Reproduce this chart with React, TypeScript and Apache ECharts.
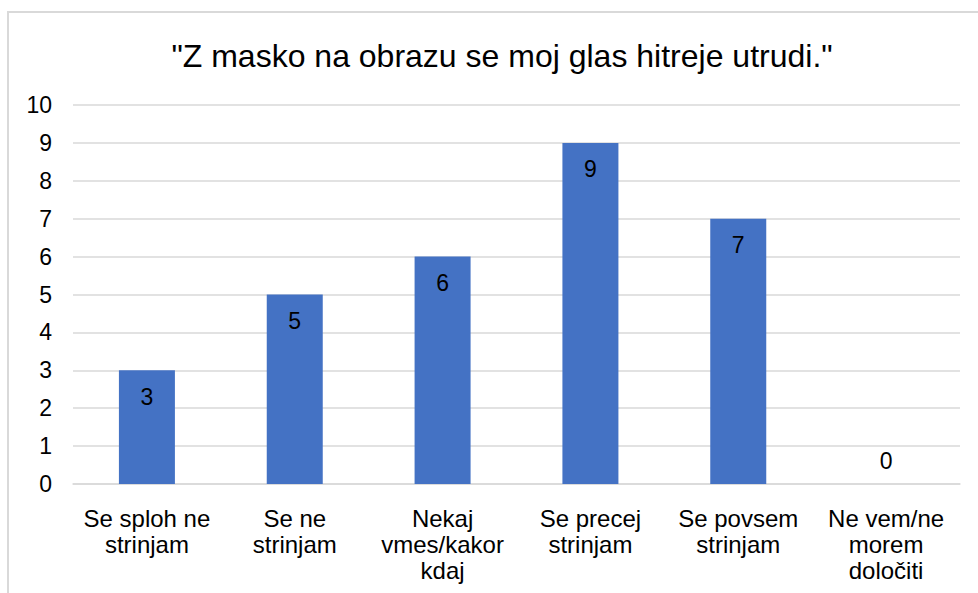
import React, { useEffect, useRef } from "react";
import * as echarts from "echarts";

const title = '"Z masko na obrazu se moj glas hitreje utrudi."';
const categories = [
  "Se sploh ne\nstrinjam",
  "Se ne\nstrinjam",
  "Nekaj\nvmes/kakor\nkdaj",
  "Se precej\nstrinjam",
  "Se povsem\nstrinjam",
  "Ne vem/ne\nmorem\ndoločiti",
];
const values = [3, 5, 6, 9, 7, 0];

export default function App() {
  const ref = useRef<HTMLDivElement>(null);
  useEffect(() => {
    document.body.style.margin = "0";
    const chart = echarts.init(ref.current!, null, { renderer: "svg" });
    const font = "'Liberation Sans', Arial, sans-serif";
    chart.setOption({
      animation: false,
      backgroundColor: "#ffffff",
      title: {
        text: title,
        left: 497,
        top: 35,
        textAlign: "center",
        textStyle: { fontFamily: font, fontSize: 32, fontWeight: "normal", color: "#000" },
      },
      graphic: [
        {
          type: "rect",
          shape: { x: 8, y: 12, width: 990, height: 600 },
          style: { fill: "none", stroke: "#d9d9d9", lineWidth: 2 },
          silent: true,
        },
      ],
      grid: { left: 73, right: 18, top: 105, bottom: 109, containLabel: false },
      xAxis: {
        type: "category",
        data: categories,
        axisLine: { lineStyle: { color: "#d9d9d9", width: 1.5 } },
        axisTick: { show: false },
        axisLabel: {
          interval: 0,
          fontFamily: font,
          fontSize: 24,
          lineHeight: 26,
          color: "#000",
          margin: 21,
        },
      },
      yAxis: {
        type: "value",
        min: 0,
        max: 10,
        interval: 1,
        axisLine: { show: false },
        axisTick: { show: false },
        splitLine: { lineStyle: { color: "#d9d9d9", width: 1.5 } },
        axisLabel: { fontFamily: font, fontSize: 23, color: "#000", margin: 21 },
      },
      series: [
        {
          type: "bar",
          data: values.map((v) => ({
            value: v,
            label:
              v === 0
                ? { position: "top", distance: 12 }
                : { position: "insideTop", distance: 15 },
          })),
          barWidth: 56,
          itemStyle: { color: "#4472C4" },
          label: {
            show: true,
            fontFamily: font,
            fontSize: 23,
            color: "#000",
          },
        },
      ],
    });
    return () => chart.dispose();
  }, []);
  return <div ref={ref} style={{ width: 978, height: 593 }} />;
}
